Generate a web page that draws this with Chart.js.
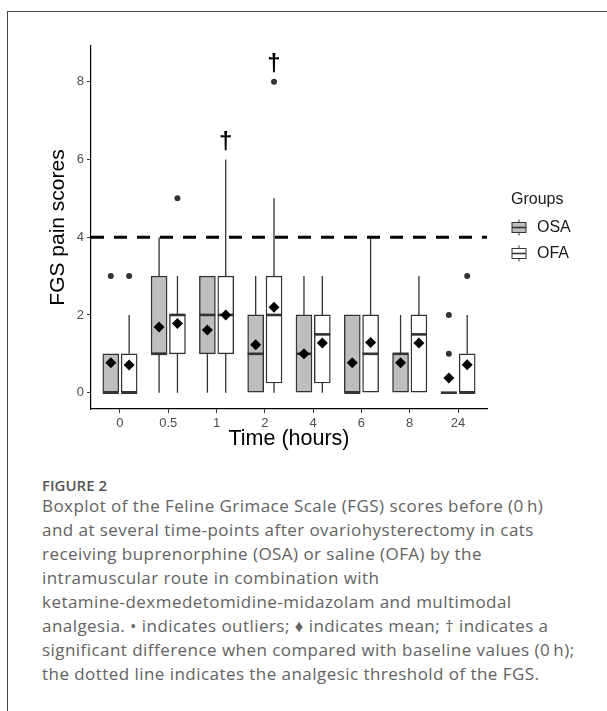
<!DOCTYPE html>
<html>
<head>
<meta charset="utf-8">
<script src="https://cdn.jsdelivr.net/npm/chart.js@4.4.1/dist/chart.umd.min.js"></script>
<style>
  html, body { margin: 0; padding: 0; background: #fff; }
  body { width: 607px; height: 711px; position: relative; overflow: hidden; }
  .frame { position: absolute; left: 7px; top: 11px; width: 660px; height: 760px;
           border-left: 1.5px solid #444; border-top: 1.5px solid #444; }
  #chart { position: absolute; left: 0; top: 0; }
  .fig { position: absolute; left: 42px; top: 475px; font: 600 15px "Open Sans"; color: #555; line-height: 20px; }
  .caption { position: absolute; left: 42px; top: 494px; font: 400 17px "Open Sans"; color: #626262;
             letter-spacing: 0.45px; line-height: 24px; white-space: nowrap; }
</style>
</head>
<body>
<div class="frame"></div>
<canvas id="chart" width="607" height="470"></canvas>
<div class="fig">FIGURE 2</div>
<div class="caption">
Boxplot of the Feline Grimace Scale (FGS) scores before (0&#8201;h)<br>
and at several time-points after ovariohysterectomy in cats<br>
receiving buprenorphine (OSA) or saline (OFA) by the<br>
intramuscular route in combination with<br>
ketamine-dexmedetomidine-midazolam and multimodal<br>
analgesia. &#8226; indicates outliers; &#9830; indicates mean; &#8224; indicates a<br>
significant difference when compared with baseline values (0&#8201;h);<br>
the dotted line indicates the analgesic threshold of the FGS.
</div>
<script>
// time points (hours)
const categories = ['0', '0.5', '1', '2', '4', '6', '8', '24'];
const groups = ['OSA', 'OFA'];
const yTicks = [0, 2, 4, 6, 8];
const threshold = 4;

// OSA (buprenorphine)
const osaLow    = [0, 0, 0, 0, 0, 0, 0, 0];
const osaQ1     = [0, 1, 1, 0, 0, 0, 0, 0];
const osaMedian = [0, 1, 2, 1, 1, 0, 1, 0];
const osaQ3     = [1, 3, 3, 2, 2, 2, 1, 0];
const osaHigh   = [1, 4, 3, 3, 3, 2, 2, 0];
const osaMean   = [0.77, 1.69, 1.61, 1.23, 1.0, 0.77, 0.77, 0.38];
const osaOutliers = [[3], [], [], [], [], [], [], [1, 2]];

// OFA (saline)
const ofaLow    = [0, 0, 0, 0, 0, 0, 0, 0];
const ofaQ1     = [0, 1, 1, 0.25, 0.25, 0, 0, 0];
const ofaMedian = [0, 2, 2, 2, 1.5, 1, 1.5, 0];
const ofaQ3     = [1, 2, 3, 3, 2, 2, 2, 1];
const ofaHigh   = [2, 3, 6, 5, 3, 4, 3, 2];
const ofaMean   = [0.71, 1.78, 2.0, 2.2, 1.28, 1.29, 1.28, 0.72];
const ofaOutliers = [[3], [5], [], [8], [], [], [], [3]];

// significance marks (OFA group)
const daggerCats = ['1', '2'];
const daggerY = [6.45, 8.45];

const dodge = [-0.19, 0.19];
const fills = ['#bebebe', '#ffffff'];
const lineCol = '#333333';

const stats = [
  { low: osaLow, q1: osaQ1, med: osaMedian, q3: osaQ3, high: osaHigh, mean: osaMean, out: osaOutliers },
  { low: ofaLow, q1: ofaQ1, med: ofaMedian, q3: ofaQ3, high: ofaHigh, mean: ofaMean, out: ofaOutliers }
];

const xOf = (i, g) => i + 1 + dodge[g];

const datasets = [];
stats.forEach((st, g) => {
  const whiskers = [];
  categories.forEach((c, i) => {
    const x = xOf(i, g);
    if (st.low[i] < st.q1[i]) whiskers.push({ x, y: st.low[i] }, { x, y: st.q1[i] }, { x, y: null });
    if (st.high[i] > st.q3[i]) whiskers.push({ x, y: st.q3[i] }, { x, y: st.high[i] }, { x, y: null });
  });
  datasets.push({
    type: 'line', label: groups[g] + ' whiskers', data: whiskers, order: 10,
    showLine: true, spanGaps: false, pointRadius: 0, borderWidth: 1.3, borderColor: lineCol
  });
  datasets.push({
    type: 'bar', label: groups[g], order: 8, grouped: false,
    data: categories.map((c, i) => ({ x: xOf(i, g), y: [st.q1[i], st.q3[i]] })),
    barThickness: 16, backgroundColor: fills[g], borderColor: lineCol,
    borderWidth: 1.4, borderSkipped: false
  });
  datasets.push({
    type: 'scatter', label: groups[g] + ' median', order: 6,
    data: categories.map((c, i) => ({ x: xOf(i, g), y: st.med[i] })),
    pointStyle: 'line', pointRadius: 8, borderWidth: 2.6, borderColor: lineCol
  });
  const outs = [];
  st.out.forEach((arr, i) => arr.forEach(v => outs.push({ x: xOf(i, g), y: v })));
  datasets.push({
    type: 'scatter', label: groups[g] + ' outliers', order: 3, data: outs,
    pointStyle: 'circle', pointRadius: 3, backgroundColor: lineCol, borderWidth: 0
  });
  datasets.push({
    type: 'scatter', label: groups[g] + ' mean', order: 1,
    data: categories.map((c, i) => ({ x: xOf(i, g), y: st.mean[i] })),
    pointStyle: 'rectRot', pointRadius: 5.5, backgroundColor: '#000', borderWidth: 0
  });
});
datasets.push({
  type: 'line', label: 'threshold', order: 4,
  data: [{ x: 0.4, y: threshold }, { x: categories.length + 0.6, y: threshold }],
  borderColor: '#000', borderWidth: 3, borderDash: [13, 10], pointRadius: 0
});

const daggerPlugin = {
  id: 'daggers',
  afterDatasetsDraw(chart) {
    const { ctx, scales: { x, y } } = chart;
    ctx.save();
    ctx.font = 'bold 24px "Liberation Sans"';
    ctx.fillStyle = '#000';
    ctx.textAlign = 'center';
    ctx.textBaseline = 'middle';
    daggerCats.forEach((c, k) => {
      const i = categories.indexOf(c);
      ctx.fillText('\u2020', x.getPixelForValue(xOf(i, 1)), y.getPixelForValue(daggerY[k]));
    });
    ctx.restore();
  }
};

const legendPlugin = {
  id: 'groupLegend',
  afterDraw(chart) {
    const { ctx, chartArea } = chart;
    const left = chartArea.right + 24;
    const mid = (chartArea.top + chartArea.bottom) / 2;
    ctx.save();
    ctx.textBaseline = 'middle';
    ctx.textAlign = 'left';
    ctx.fillStyle = '#1a1a1a';
    ctx.font = '16px "Liberation Sans"';
    ctx.fillText('Groups', left, mid - 28);
    groups.forEach((name, g) => {
      const cy = mid + g * 26;
      const cx = left + 8;
      ctx.strokeStyle = lineCol;
      ctx.lineWidth = 1;
      ctx.beginPath();
      ctx.moveTo(cx, cy - 8); ctx.lineTo(cx, cy - 5);
      ctx.moveTo(cx, cy + 5); ctx.lineTo(cx, cy + 8);
      ctx.stroke();
      ctx.fillStyle = fills[g];
      ctx.fillRect(left + 1, cy - 5, 14, 10);
      ctx.strokeRect(left + 1, cy - 5, 14, 10);
      ctx.lineWidth = 1.6;
      ctx.beginPath();
      ctx.moveTo(left + 1, cy); ctx.lineTo(left + 15, cy);
      ctx.stroke();
      ctx.fillStyle = '#1a1a1a';
      ctx.font = '16px "Liberation Sans"';
      ctx.fillText(name, left + 26, cy);
    });
    ctx.restore();
  }
};

const tickFont = { family: 'Liberation Sans', size: 13 };

new Chart(document.getElementById('chart'), {
  type: 'scatter',
  data: { datasets },
  plugins: [daggerPlugin, legendPlugin],
  options: {
    responsive: false,
    devicePixelRatio: 1,
    animation: false,
    events: [],
    layout: { padding: { left: 42, top: 46, right: 120, bottom: 14 } },
    plugins: { legend: { display: false }, tooltip: { enabled: false } },
    scales: {
      x: {
        type: 'linear', min: 0.4, max: categories.length + 0.6, offset: false,
        afterBuildTicks: s => { s.ticks = categories.map((c, i) => ({ value: i + 1 })); },
        afterFit: s => { s.height = 47; },
        ticks: { font: tickFont, color: '#4d4d4d', padding: 3, callback: v => categories[v - 1] },
        grid: { display: true, offset: false, drawOnChartArea: false, drawTicks: true, tickLength: 4, color: lineCol },
        border: { display: true, color: '#000', width: 1.2 },
        title: { display: true, text: 'Time (hours)', color: '#000',
                 font: { family: 'Liberation Sans', size: 21.5 }, padding: { top: 4, bottom: 4 } }
      },
      y: {
        type: 'linear', min: -0.42, max: 8.92,
        afterBuildTicks: s => { s.ticks = yTicks.map(v => ({ value: v })); },
        afterFit: s => { s.width = 49; },
        ticks: { font: tickFont, color: '#4d4d4d', padding: 3 },
        grid: { display: true, offset: false, drawOnChartArea: false, drawTicks: true, tickLength: 4, color: lineCol },
        border: { display: true, color: '#000', width: 1.2 },
        title: { display: true, text: 'FGS pain scores', color: '#000',
                 font: { family: 'Liberation Sans', size: 21 }, padding: { top: 4, bottom: 4 } }
      }
    }
  }
});
</script>
</body>
</html>
